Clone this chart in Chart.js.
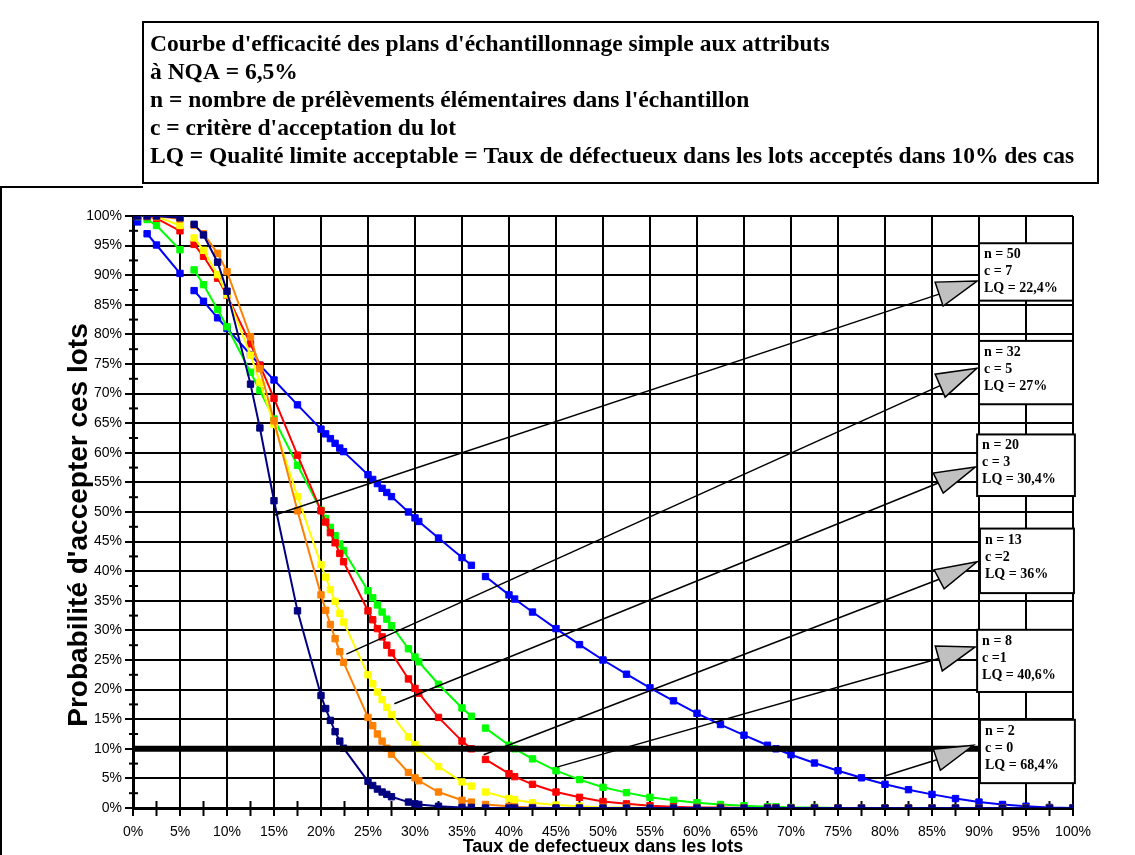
<!DOCTYPE html>
<html lang="fr">
<head>
<meta charset="UTF-8">
<title>Courbe d'efficacité - NQA 6,5%</title>
<script src="https://cdn.jsdelivr.net/npm/chart.js"></script>
<style>
  html, body { margin: 0; padding: 0; background: #fff; }
  canvas { display: block; }
</style>
</head>
<body>
<canvas id="oc" width="1135" height="855"></canvas>
<script>
// Taux de défectueux (%) des points tracés
const taux = [0, 0.5, 1.5, 2.5, 5, 6.5, 7.5, 9, 10, 12.5, 13.5, 15, 17.5,
  20, 20.5, 21, 21.5, 22, 22.4, 25, 25.5, 26, 26.5, 27, 27.5, 29.3, 30, 30.4,
  32.5, 35, 36, 37.5, 40, 40.6, 42.5, 45, 47.5, 50, 52.5, 55, 57.5, 60, 62.5,
  65, 67.5, 68.4, 70, 72.5, 75, 77.5, 80, 82.5, 85, 87.5, 90, 92.5, 95, 97.5, 100];
// la courbe s'interrompt après ces taux
const coupures = [0.5, 5, 36];

// Probabilité d'acceptation (%) lue pour chaque plan
const pa_n2 = [100, 99.0, 97.0, 95.1, 90.3, 87.4, 85.6, 82.8, 81.0, 76.6, 74.8, 72.3, 68.1,
  64.0, 63.2, 62.4, 61.6, 60.8, 60.2, 56.3, 55.5, 54.8, 54.0, 53.3, 52.6, 50.0, 49.0, 48.4,
  45.6, 42.3, 41.0, 39.1, 36.0, 35.3, 33.1, 30.3, 27.6, 25.0, 22.6, 20.3, 18.1, 16.0, 14.1,
  12.3, 10.6, 10.0, 9.0, 7.6, 6.3, 5.1, 4.0, 3.1, 2.3, 1.6, 1.0, 0.6, 0.3, 0.1, 0];
const pa_n8 = [100, 99.9, 99.4, 98.4, 94.3, 90.9, 88.4, 84.2, 81.3, 73.6, 70.5, 65.7, 57.9,
  50.3, 48.9, 47.4, 46.0, 44.6, 43.5, 36.7, 35.5, 34.3, 33.1, 31.9, 30.8, 26.9, 25.5, 24.7,
  20.9, 16.9, 15.5, 13.5, 10.6, 10.0, 8.3, 6.3, 4.8, 3.5, 2.6, 1.8, 1.3, 0.9, 0.6,
  0.4, 0.2, 0.2, 0.1, 0.1, 0, 0, 0, 0, 0, 0, 0, 0, 0, 0, 0];
const pa_n13 = [100, 100, 99.9, 99.6, 97.5, 95.2, 93.2, 89.5, 86.6, 78.4, 74.8, 69.2, 59.6,
  50.2, 48.3, 46.5, 44.8, 43.0, 41.6, 33.3, 31.8, 30.3, 28.9, 27.5, 26.2, 21.8, 20.2, 19.4,
  15.3, 11.3, 10.0, 8.2, 5.8, 5.3, 4.0, 2.7, 1.8, 1.1, 0.7, 0.4, 0.2, 0.1, 0.1,
  0, 0, 0, 0, 0, 0, 0, 0, 0, 0, 0, 0, 0, 0, 0, 0];
const pa_n20 = [100, 100, 100, 99.9, 98.4, 96.3, 94.2, 90.1, 86.7, 76.5, 71.9, 64.8, 52.6,
  41.1, 39.0, 36.9, 34.9, 32.9, 31.4, 22.5, 21.0, 19.6, 18.3, 17.0, 15.8, 12.0, 10.7, 10.0,
  7.0, 4.4, 3.7, 2.7, 1.6, 1.4, 0.9, 0.5, 0.3, 0.1, 0.1, 0, 0, 0, 0,
  0, 0, 0, 0, 0, 0, 0, 0, 0, 0, 0, 0, 0, 0, 0, 0];
const pa_n32 = [100, 100, 100, 100, 99.5, 98.4, 97.0, 93.7, 90.6, 79.6, 74.2, 65.4, 50.2,
  36.0, 33.4, 31.0, 28.6, 26.4, 24.6, 15.3, 13.9, 12.5, 11.3, 10.1, 9.1, 6.0, 5.1, 4.6,
  2.7, 1.3, 1.0, 0.6, 0.3, 0.2, 0.1, 0, 0, 0, 0, 0, 0, 0, 0,
  0, 0, 0, 0, 0, 0, 0, 0, 0, 0, 0, 0, 0, 0, 0, 0];
const pa_n50 = [100, 100, 100, 100, 99.7, 98.6, 96.8, 92.2, 87.3, 71.6, 64.2, 51.9, 33.3,
  19.0, 16.8, 14.8, 12.9, 11.3, 10.1, 4.5, 3.8, 3.2, 2.7, 2.3, 1.9, 1.0, 0.7, 0.6,
  0.3, 0.1, 0.1, 0, 0, 0, 0, 0, 0, 0, 0, 0, 0, 0, 0,
  0, 0, 0, 0, 0, 0, 0, 0, 0, 0, 0, 0, 0, 0, 0, 0];

const plans = ['n = 2 ; c = 0', 'n = 8 ; c = 1', 'n = 13 ; c = 2', 'n = 20 ; c = 3', 'n = 32 ; c = 5', 'n = 50 ; c = 7'];
const valeurs = [pa_n2, pa_n8, pa_n13, pa_n20, pa_n32, pa_n50];
const couleurs = ['#0000ff', '#00ff00', '#ff0000', '#ffff00', '#ff8000', '#000080'];

const titre = [
  "Courbe d'efficacité des plans d'échantillonnage simple aux attributs",
  "à NQA = 6,5%",
  "n = nombre de prélèvements élémentaires dans l'échantillon",
  "c = critère d'acceptation du lot",
  "LQ = Qualité limite acceptable = Taux de défectueux dans les lots acceptés dans 10% des cas"
];

// encadrés : [gauche, haut, droite, bas] en %, départ de la flèche, pointe, dos de la pointe (px)
const encadres = [
  { lignes: ['n = 50', 'c = 7', 'LQ = 22,4%'], boite: [90.0, 95.4, 100.0, 85.7], depart: [15.1, 49.5], pointe: [89.8, 89.0], dos: [[-42, 1], [-34, 25]] },
  { lignes: ['n = 32', 'c = 5', 'LQ = 27%'], boite: [90.0, 78.9, 100.0, 68.2], depart: [22.7, 26.0], pointe: [89.8, 74.3], dos: [[-42, 6], [-32, 29]] },
  { lignes: ['n = 20', 'c = 3', 'LQ = 30,4%'], boite: [89.8, 63.1, 100.2, 52.7], depart: [27.8, 17.6], pointe: [89.6, 57.6], dos: [[-42, 6], [-32, 26]] },
  { lignes: ['n = 13', 'c =2', 'LQ = 36%'], boite: [90.1, 47.2, 100.1, 36.3], depart: [37.3, 9.0], pointe: [89.8, 41.6], dos: [[-43, 8], [-33, 27]] },
  { lignes: ['n = 8', 'c =1', 'LQ = 40,6%'], boite: [89.8, 30.1, 100.0, 19.6], depart: [45.1, 6.9], pointe: [89.6, 27.2], dos: [[-40, -1], [-33, 24]] },
  { lignes: ['n = 2', 'c = 0', 'LQ = 68,4%'], boite: [90.1, 14.9, 100.2, 4.2], depart: [80.0, 5.4], pointe: [89.4, 10.6], dos: [[-40, 4], [-33, 25]] }
];
const seuil = 10;       // ligne épaisse à 10%
const seuilFin = 90.1;

function points(v) {
  const pts = [];
  taux.forEach((x, i) => {
    pts.push({ x: x, y: v[i] });
    if (coupures.includes(x)) pts.push({ x: (x + taux[i + 1]) / 2, y: null });
  });
  return pts;
}

const datasets = plans.map((nom, i) => ({
  label: nom,
  data: points(valeurs[i]),
  borderColor: couleurs[i],
  backgroundColor: couleurs[i],
  pointBackgroundColor: couleurs[i],
  pointBorderColor: couleurs[i],
  pointStyle: 'rect',
  pointRadius: 4.5,
  pointBorderWidth: 1,
  borderWidth: 2,
  showLine: true,
  spanGaps: false,
  tension: 0,
  order: plans.length - i
}));

const decor = {
  id: 'decor',
  beforeDraw(chart) {
    const c = chart.ctx;
    c.save();
    c.fillStyle = '#fff';
    c.fillRect(0, 0, chart.width, chart.height);
    c.restore();
  },
  beforeDatasetsDraw(chart) {
    const c = chart.ctx, sx = chart.scales.x, sy = chart.scales.y;
    c.save();
    c.strokeStyle = '#000';
    c.lineWidth = 2;
    for (let v = 2.5; v < 100; v += 5) {
      const py = sy.getPixelForValue(v);
      c.beginPath(); c.moveTo(sx.left - 4, py); c.lineTo(sx.left + 5, py); c.stroke();
      const px = sx.getPixelForValue(v);
      c.beginPath(); c.moveTo(px, sy.bottom - 7); c.lineTo(px, sy.bottom + 8); c.stroke();
    }
    c.restore();
  },
  afterDatasetsDraw(chart) {
    const c = chart.ctx, sx = chart.scales.x, sy = chart.scales.y;
    const X = v => sx.getPixelForValue(v), Y = v => sy.getPixelForValue(v);
    c.save();

    // ligne épaisse à 10%
    c.strokeStyle = '#000';
    c.lineWidth = 6;
    c.beginPath(); c.moveTo(X(0), Y(seuil)); c.lineTo(X(seuilFin), Y(seuil)); c.stroke();

    // flèches et encadrés
    encadres.forEach(e => {
      const tx = X(e.pointe[0]), ty = Y(e.pointe[1]);
      const a = [tx + e.dos[0][0], ty + e.dos[0][1]];
      const b = [tx + e.dos[1][0], ty + e.dos[1][1]];
      const mx = (a[0] + b[0]) / 2, my = (a[1] + b[1]) / 2;
      c.strokeStyle = '#000';
      c.lineWidth = 1.5;
      c.beginPath(); c.moveTo(X(e.depart[0]), Y(e.depart[1])); c.lineTo(mx, my); c.stroke();
      c.fillStyle = '#c0c0c0';
      c.beginPath(); c.moveTo(tx, ty); c.lineTo(a[0], a[1]); c.lineTo(b[0], b[1]); c.closePath();
      c.fill(); c.stroke();

      const l = X(e.boite[0]), t = Y(e.boite[1]), r = X(e.boite[2]), bt = Y(e.boite[3]);
      c.fillStyle = '#fff';
      c.fillRect(l, t, r - l, bt - t);
      c.lineWidth = 2;
      c.strokeRect(l, t, r - l, bt - t);
      c.fillStyle = '#000';
      c.font = 'bold 14px "Liberation Serif", "Times New Roman", serif';
      c.textAlign = 'left';
      c.textBaseline = 'alphabetic';
      e.lignes.forEach((s, k) => c.fillText(s, l + 5, t + 15 + k * 17));
    });

    // titres des axes
    c.fillStyle = '#000';
    c.font = 'bold 28px "Liberation Sans", Arial, sans-serif';
    c.textAlign = 'center';
    c.textBaseline = 'alphabetic';
    c.save();
    c.translate(87, (sy.top + sy.bottom) / 2 + 13);
    c.rotate(-Math.PI / 2);
    c.fillText("Probabilité d'accepter ces lots", 0, 0);
    c.restore();
    c.font = 'bold 18px "Liberation Sans", Arial, sans-serif';
    c.fillText('Taux de defectueux dans les lots', (sx.left + sx.right) / 2, 852);

    // cadre du graphique
    c.strokeStyle = '#000';
    c.lineWidth = 2;
    c.beginPath(); c.moveTo(1, 855); c.lineTo(1, 187); c.lineTo(143, 187); c.stroke();

    // encadré du titre
    c.fillStyle = '#fff';
    c.fillRect(143, 22, 955, 161);
    c.lineWidth = 2;
    c.strokeRect(143, 22, 955, 161);
    c.fillStyle = '#000';
    c.font = 'bold 23.5px "Liberation Serif", "Times New Roman", serif';
    c.textAlign = 'left';
    c.textBaseline = 'middle';
    titre.forEach((s, k) => c.fillText(s, 150, 45 + k * 28));
    c.restore();
  }
};

new Chart(document.getElementById('oc'), {
  type: 'scatter',
  data: { datasets: datasets },
  options: {
    responsive: false,
    animation: false,
    devicePixelRatio: 1,
    layout: { padding: { top: 216, right: 62, left: 0, bottom: 0 } },
    plugins: { legend: { display: false }, tooltip: { enabled: false }, title: { display: false } },
    scales: {
      x: {
        type: 'linear', min: 0, max: 100,
        ticks: {
          stepSize: 5, color: '#000', padding: 8, maxRotation: 0, autoSkip: false,
          font: { family: '"Liberation Sans", Arial, sans-serif', size: 14 },
          callback: v => v + '%'
        },
        grid: { color: '#000', lineWidth: 2, tickLength: 8 },
        border: { color: '#000', width: 3 },
        afterFit(s) { s.height = 47; }
      },
      y: {
        type: 'linear', min: 0, max: 100,
        ticks: {
          stepSize: 5, color: '#000', padding: 3, autoSkip: false,
          font: { family: '"Liberation Sans", Arial, sans-serif', size: 14 },
          callback: v => v + '%'
        },
        grid: { color: '#000', lineWidth: 2, tickLength: 8 },
        border: { color: '#000', width: 3 },
        afterFit(s) { s.width = 133; }
      }
    }
  },
  plugins: [decor]
});
</script>
</body>
</html>
